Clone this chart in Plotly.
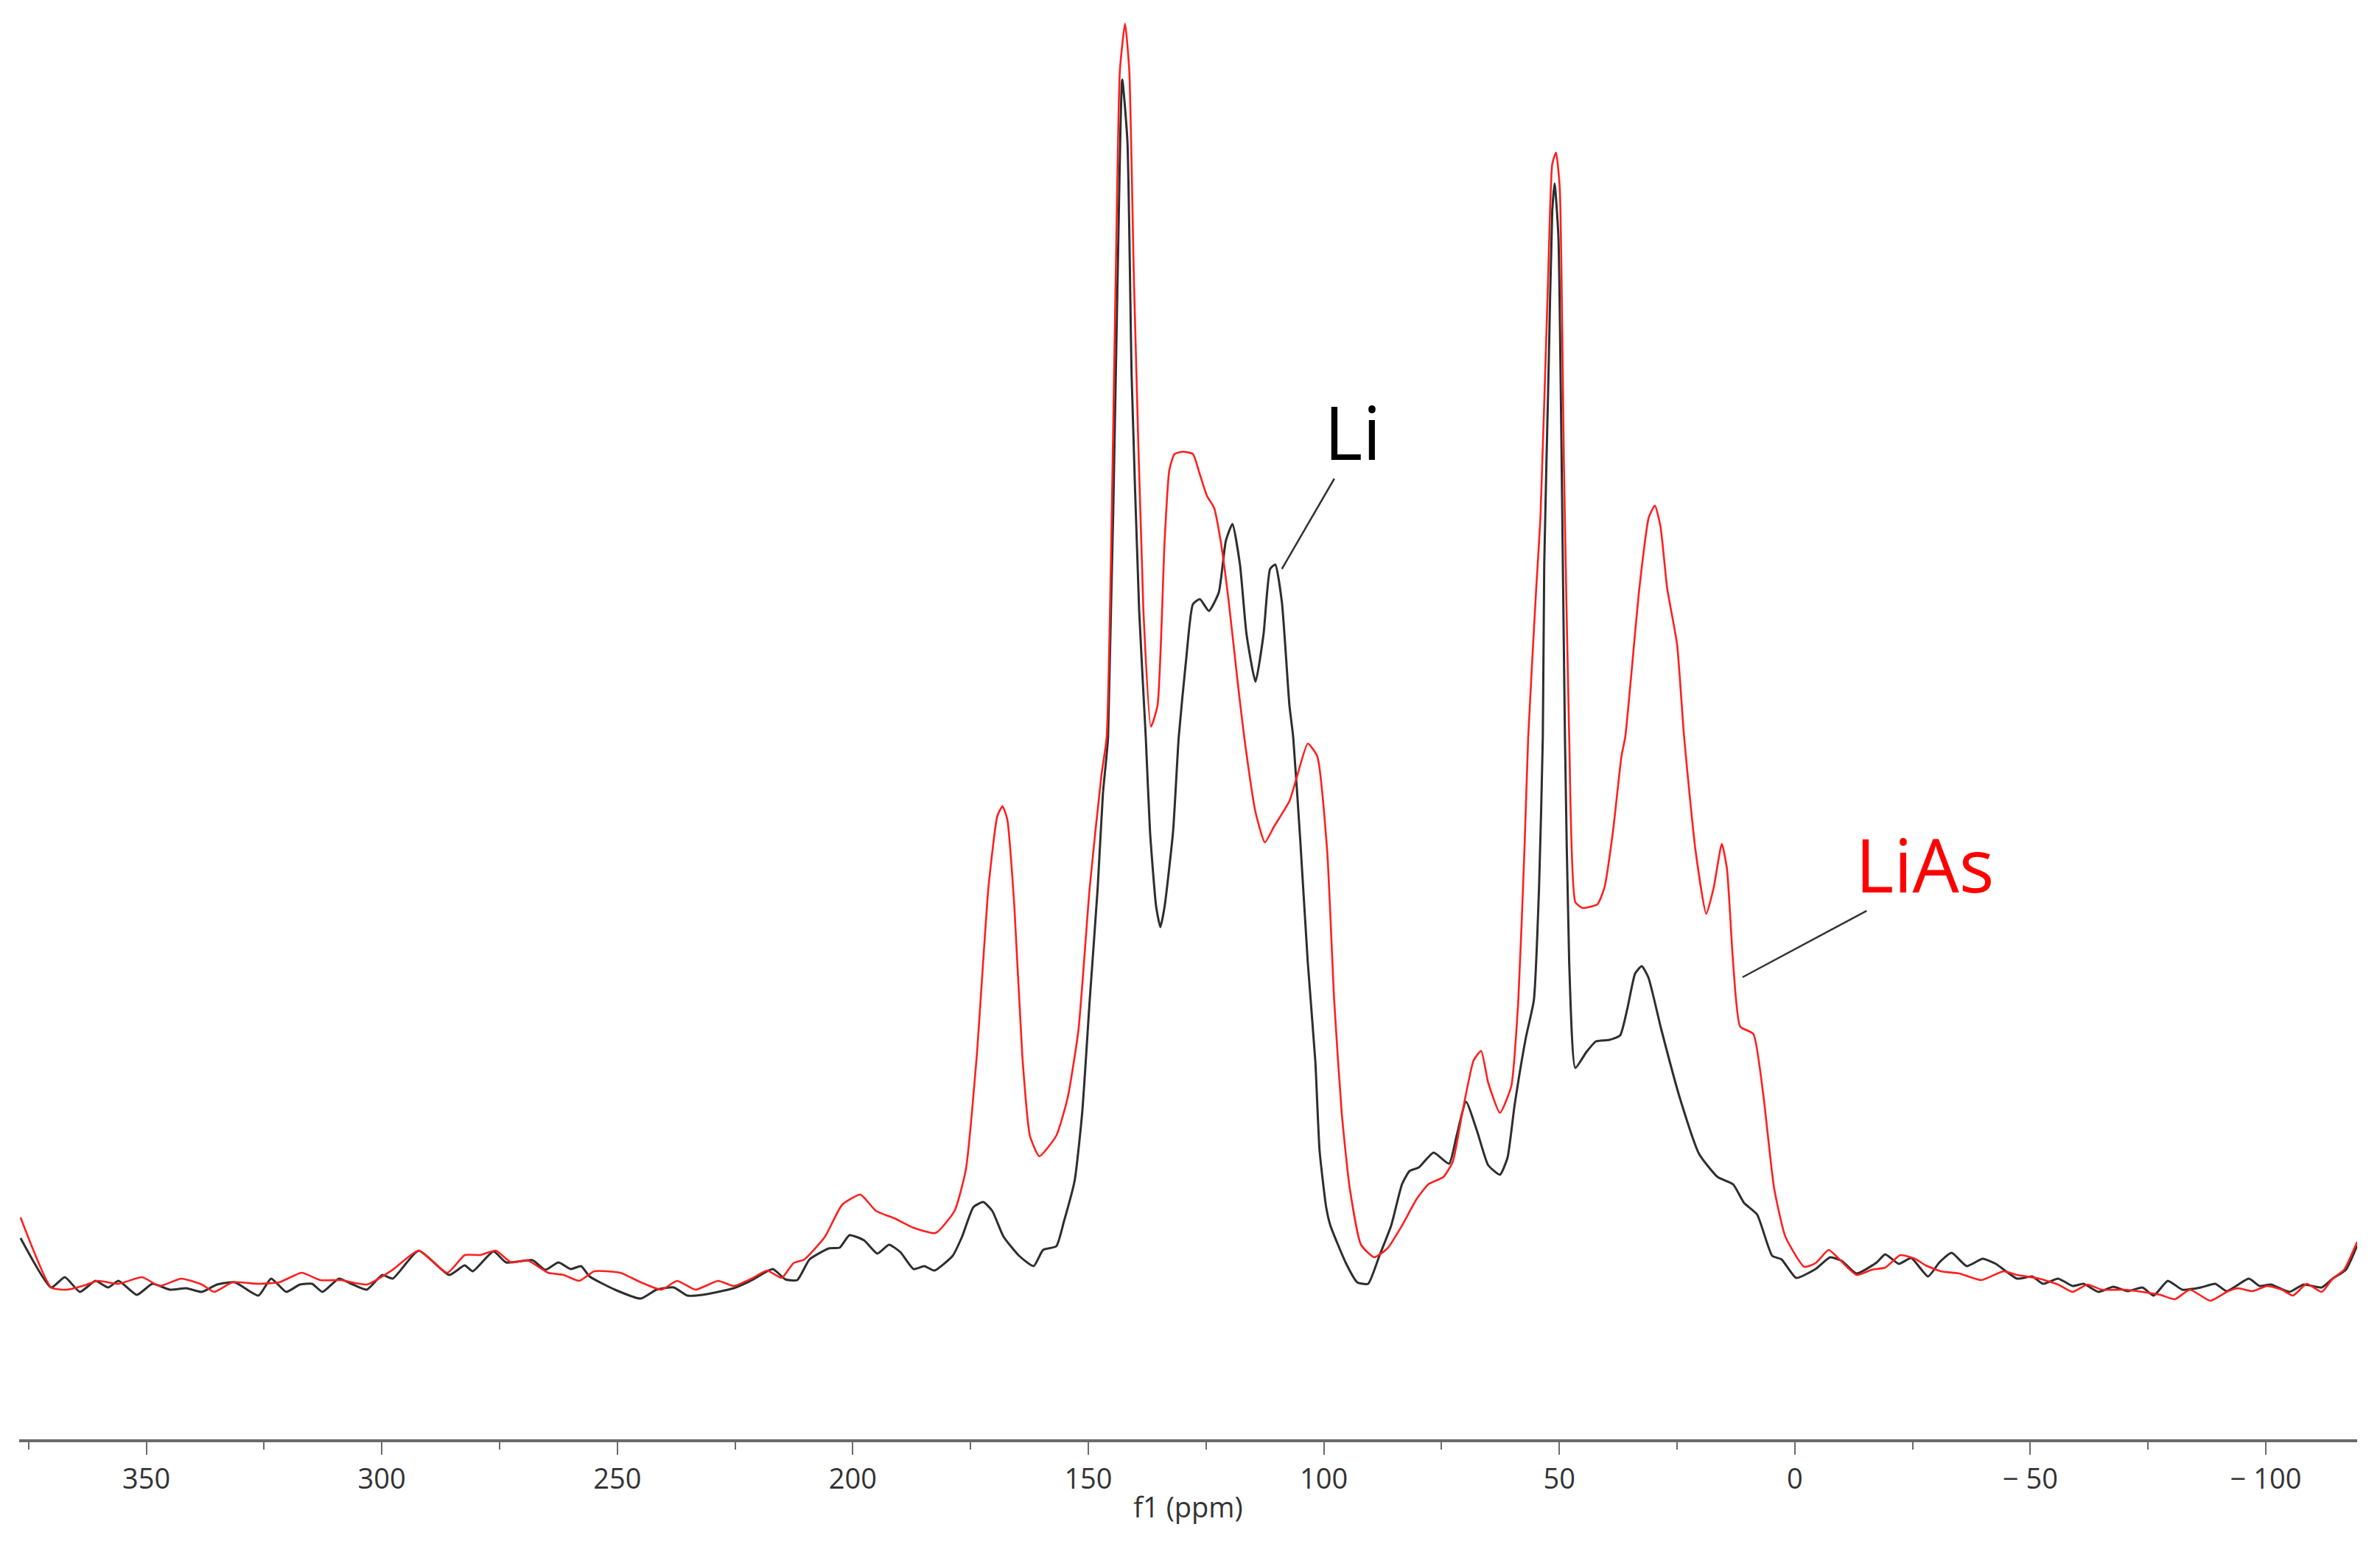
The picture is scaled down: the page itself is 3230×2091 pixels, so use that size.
import plotly.graph_objects as go

# 13C spectra, chemical shift in ppm, intensity in arbitrary units
LI_PPM = [
    376.7, 370.2, 367.3, 364.1, 360.8, 358.1, 355.9, 352.0, 348.7, 345.0,
    341.5, 338.2, 335.0, 331.2, 326.2, 323.5, 320.3, 317.4, 314.8, 312.6,
    309.1, 306.5, 303.2, 299.9, 297.7, 292.2, 285.7, 282.4, 280.7, 276.3,
    273.6, 268.0, 265.3, 262.5, 259.9, 257.7, 255.9, 250.5, 245.0, 241.7,
    238.0, 235.1, 231.9, 225.3, 221.4, 217.0, 214.3, 211.8, 209.2, 205.1,
    202.8, 200.7, 197.6, 194.8, 192.3, 189.9, 187.1, 184.8, 182.7, 178.8,
    176.8, 174.4, 172.3, 170.4, 168.0, 164.7, 161.6, 159.6, 156.8, 155.2,
    152.9, 151.3, 149.7, 148.0, 146.9, 145.8, 143.8, 142.8, 141.7, 140.8,
    139.2, 137.8, 136.9, 135.6, 134.7, 133.8, 132.0, 130.8, 129.2, 127.8,
    126.3, 124.4, 122.3, 120.8, 119.4, 117.8, 116.4, 114.5, 112.8, 111.4,
    110.3, 108.9, 107.3, 106.5, 105.0, 103.4, 101.8, 100.9, 99.5, 98.6,
    95.3, 92.9, 90.6, 88.2, 85.7, 83.4, 81.8, 79.8, 76.7, 73.4,
    71.8, 69.8, 67.4, 65.1, 62.6, 61.0, 59.5, 57.1, 55.4, 54.3,
    53.5, 53.2, 52.3, 51.5, 51.0, 50.2, 49.6, 48.8, 47.9, 46.6,
    44.3, 42.2, 39.4, 37.1, 35.5, 33.9, 32.5, 31.1, 28.3, 24.4,
    20.3, 16.4, 13.1, 10.8, 8.0, 4.8, 2.8, -0.3, -4.4, -7.5,
    -10.0, -13.1, -17.4, -19.2, -22.1, -24.7, -28.3, -30.7, -33.3, -36.5,
    -39.9, -42.7, -47.2, -50.4, -52.7, -55.9, -59.0, -61.3, -64.5, -67.6,
    -70.7, -73.8, -76.2, -79.2, -82.3, -86.2, -89.3, -91.7, -96.4, -98.7,
    -101.1, -105.0, -108.0, -111.9, -114.2, -117.0, -119.4,
]
LI_INT = [
    61, -6, 8, -12, 3, -6, 3, -16, -1, -9,
    -7, -12, -2, 1, -17, 6, -12, -2, -1, -12,
    6, -1, -9, 11, 6, 44, 11, 24, 16, 43,
    28, 31, 18, 28, 19, 23, 9, -9, -21, -9,
    -6, -17, -16, -7, 4, 19, 5, 4, 32, 47,
    48, 65, 58, 40, 52, 42, 19, 23, 17, 37,
    63, 103, 110, 98, 63, 37, 23, 45, 50, 83,
    139, 231, 384, 537, 664, 741, 1358, 1633, 1550, 1231,
    912, 741, 613, 511, 483, 511, 613, 741, 848, 921,
    928, 912, 937, 1007, 1030, 975, 880, 816, 880, 969,
    975, 924, 784, 741, 601, 435, 301, 180, 103, 78,
    27, 1, -1, 37, 78, 134, 152, 157, 177, 162,
    200, 246, 205, 160, 147, 170, 241, 333, 384, 537,
    741, 975, 1231, 1454, 1492, 1422, 1167, 741, 435, 292,
    313, 328, 330, 336, 374, 420, 430, 415, 343, 251,
    175, 144, 134, 109, 93, 37, 32, 7, 19, 35,
    30, 13, 28, 39, 26, 34, 9, 28, 41, 23,
    33, 26, 6, 9, -1, 6, -4, -1, -12, -5,
    -11, -6, -17, 3, -9, -6, -1, -11, 6, -4,
    -2, -12, -2, -6, 6, 18, 51,
]

LIAS_PPM = [
    376.7, 370.2, 366.9, 363.6, 360.3, 355.9, 350.9, 347.2, 342.6, 338.2,
    335.6, 331.7, 326.2, 321.8, 317.0, 313.1, 308.7, 303.2, 297.7, 292.2,
    286.1, 282.4, 279.1, 275.8, 272.5, 269.1, 264.7, 261.4, 258.1, 254.9,
    249.4, 245.0, 240.6, 237.3, 233.4, 228.6, 225.3, 221.5, 218.2, 215.1,
    212.6, 210.3, 205.9, 202.3, 198.4, 195.1, 191.2, 187.1, 182.4, 178.4,
    176.0, 173.7, 171.2, 169.3, 168.2, 167.2, 165.7, 164.0, 162.4, 160.4,
    156.8, 154.4, 152.1, 149.7, 147.2, 146.1, 144.2, 143.3, 142.2, 141.3,
    140.3, 138.3, 136.7, 135.3, 133.8, 132.8, 131.7, 129.9, 127.8, 126.3,
    124.8, 123.3, 121.9, 120.3, 118.3, 116.9, 114.5, 112.5, 110.6, 107.3,
    105.8, 103.4, 101.4, 99.3, 97.8, 96.2, 94.5, 92.1, 89.3, 86.5,
    83.4, 80.3, 77.8, 74.6, 72.6, 70.6, 68.2, 66.6, 65.1, 62.6,
    60.2, 58.7, 57.4, 56.6, 54.9, 54.0, 52.4, 51.5, 50.7, 49.9,
    49.0, 47.9, 46.6, 45.1, 41.9, 40.4, 38.6, 36.8, 36.0, 33.0,
    31.0, 29.7, 28.5, 27.1, 25.0, 23.5, 21.1, 18.8, 17.2, 15.5,
    14.4, 13.1, 11.6, 8.8, 6.7, 4.4, 2.0, -2.0, -4.4, -7.2,
    -9.2, -13.1, -16.3, -19.2, -22.4, -25.5, -27.8, -31.0, -34.9, -39.6,
    -44.3, -47.2, -51.9, -55.9, -59.0, -62.1, -65.2, -69.9, -73.8, -77.6,
    -80.7, -83.9, -88.2, -91.7, -94.0, -97.2, -100.3, -103.4, -105.8, -108.7,
    -111.9, -114.2, -116.6, -119.4,
]
LIAS_INT = [
    89, -6, -9, -4, 3, -1, 8, -4, 6, -2,
    -12, 1, -1, 1, 14, 4, 4, -2, 18, 44,
    14, 38, 38, 44, 28, 31, 14, 11, 3, 16,
    14, 1, -9, 3, -9, 3, -4, 6, 17, 7,
    27, 32, 63, 106, 120, 98, 88, 75, 68, 98,
    154, 307, 537, 634, 647, 629, 511, 307, 200, 172,
    200, 251, 343, 537, 690, 741, 1358, 1645, 1709, 1645,
    1358, 912, 755, 784, 1007, 1103, 1125, 1128, 1125, 1097,
    1068, 1052, 1007, 931, 816, 741, 639, 598, 619, 654,
    685, 732, 715, 588, 384, 231, 129, 52, 35, 47,
    78, 114, 134, 144, 165, 231, 302, 315, 272, 231,
    267, 384, 588, 741, 943, 1039, 1358, 1518, 1534, 1486,
    1103, 741, 517, 509, 514, 537, 613, 715, 741, 943,
    1039, 1055, 1026, 943, 867, 741, 588, 501, 537, 596,
    562, 435, 348, 338, 256, 129, 63, 22, 27, 45,
    34, 11, 18, 21, 38, 33, 24, 16, 13, 4,
    16, 11, 6, -2, -12, -2, -9, -9, -12, -16,
    -22, -9, -24, -12, -7, -11, -4, -9, -17, -1,
    -12, 6, 18, 56,
]

TICK_VALUES = [350, 300, 250, 200, 150, 100, 50, 0, -50, -100]
TICK_LABELS = ["350", "300", "250", "200", "150", "100", "50", "0", "\u2212 50", "\u2212 100"]

AXIS_GREY = "#6b6b6b"
FONT = "Open Sans, Noto Sans, sans-serif"

fig = go.Figure()

fig.add_trace(go.Scatter(
    x=LI_PPM, y=LI_INT, mode="lines", name="Li",
    line=dict(color="#2e2e2e", width=3, shape="spline", smoothing=0.5),
))
fig.add_trace(go.Scatter(
    x=LIAS_PPM, y=LIAS_INT, mode="lines", name="LiAs",
    line=dict(color="#ff1f1f", width=2.6, shape="spline", smoothing=0.5),
))

# labels with leader lines
fig.add_annotation(x=108.9, y=969, ax=72, ay=-124, text="", showarrow=True,
                   arrowhead=0, arrowwidth=2.5, arrowcolor="#333333")
fig.add_annotation(x=93.9, y=1156, text="Li", showarrow=False,
                   font=dict(family=FONT, size=100, color="#000000"))
fig.add_annotation(x=11.1, y=415, ax=170, ay=-91, text="", showarrow=True,
                   arrowhead=0, arrowwidth=2.5, arrowcolor="#333333")
fig.add_annotation(x=-27.5, y=569, text="LiAs", showarrow=False,
                   font=dict(family=FONT, size=100, color="#ff0000"))

fig.update_xaxes(
    range=[377.0, -119.4],
    showline=True, linecolor=AXIS_GREY, linewidth=4,
    ticks="outside", ticklen=17, tickwidth=2, tickcolor=AXIS_GREY,
    tickmode="array", tickvals=TICK_VALUES, ticktext=TICK_LABELS,
    tickfont=dict(family=FONT, size=38, color="#333333"),
    minor=dict(ticks="outside", ticklen=10, tickwidth=2, tickcolor=AXIS_GREY,
               tick0=0, dtick=25, showgrid=False),
    showgrid=False, zeroline=False,
    title=dict(text="f1 (ppm)", font=dict(family=FONT, size=38, color="#333333"),
               standoff=4),
)
fig.update_yaxes(range=[-212, 1733], visible=False, showgrid=False, zeroline=False)

# the page body adds an 8px offset, so the figure is 8px smaller each way
fig.update_layout(
    width=3222, height=2083,
    margin=dict(l=18, r=31, t=0, b=138),
    paper_bgcolor="white", plot_bgcolor="white",
    showlegend=False,
)

fig.write_html("out.html")
